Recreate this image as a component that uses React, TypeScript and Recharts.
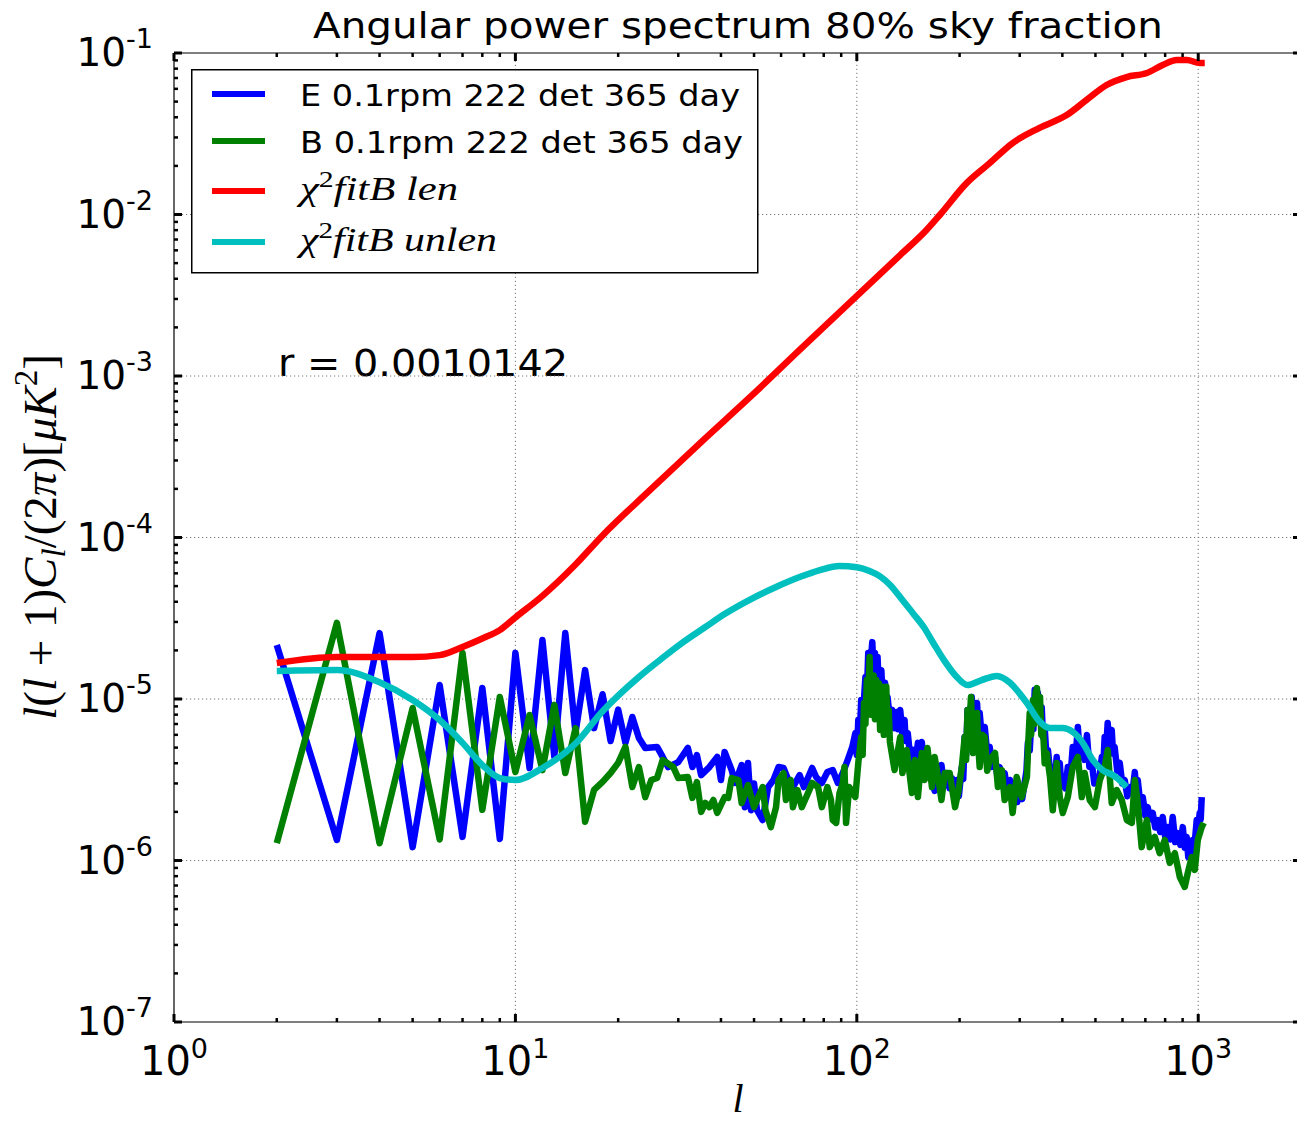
import React from 'react';
import { LineChart, Line, XAxis, YAxis, ReferenceLine, Legend, Customized } from 'recharts';

type Pt = [number, number];

// Measured E-mode spectrum, l(l+1)C_l/(2pi) in uK^2
const E_SPECTRUM: Pt[] = [
  [2, 2.16e-5], [3, 1.34e-6], [4, 2.56e-5], [5, 1.21e-6], [6, 1.22e-5], [7, 1.4e-6], [8, 1.17e-5], [9, 1.36e-6],
  [10, 1.93e-5], [11, 3.74e-6], [12, 2.32e-5], [13, 4.4e-6], [14, 2.56e-5], [15, 6.2e-6], [16, 1.51e-5], [17, 6.6e-6],
  [18, 1.07e-5], [19, 5.5e-6], [20, 8.6e-6], [21, 5.35e-6], [22, 7.74e-6], [23, 5.74e-6], [24, 4.98e-6], [26, 5.05e-6],
  [27, 4.38e-6], [28, 3.79e-6], [30, 4.07e-6], [32, 4.98e-6], [33, 3.79e-6], [34, 4.5e-6], [35, 3.38e-6], [37, 3.79e-6],
  [39, 4.38e-6], [40, 3.15e-6], [41, 4.7e-6], [43, 3.63e-6], [44, 3.02e-6], [46, 3.9e-6], [47, 2.14e-6], [48, 4.02e-6],
  [49, 2.05e-6], [50, 3.0e-6], [51, 2.05e-6], [53, 1.78e-6], [55, 2.85e-6], [57, 3.15e-6], [59, 3.79e-6], [61, 3.74e-6],
  [63, 3.15e-6], [65, 2.85e-6], [68, 3.38e-6], [70, 2.85e-6], [74, 3.74e-6], [76, 3.29e-6], [79, 3.02e-6], [82, 3.53e-6],
  [85, 3.63e-6], [88, 3.02e-6], [91, 3.48e-6], [94, 4.19e-6], [97, 5.05e-6], [99, 6.15e-6], [100, 4.5e-6], [101, 7.41e-6],
  [102, 6.0e-6], [103, 9.86e-6], [104, 7.5e-6], [106, 1.37e-5], [107, 1.05e-5], [108, 1.93e-5], [109, 1.4e-5], [111, 2.25e-5],
  [112, 1.5e-5], [113, 1.93e-5], [114, 1.3e-5], [115, 1.82e-5], [116, 1.2e-5], [118, 1.51e-5], [119, 1.0e-5], [121, 1.26e-5],
  [122, 8.5e-6], [123, 1.03e-5], [125, 7.5e-6], [127, 8.55e-6], [129, 6.6e-6], [131, 8.31e-6], [132, 6.5e-6], [134, 8.55e-6],
  [136, 6.0e-6], [138, 7.41e-6], [139, 5.5e-6], [141, 6.15e-6], [143, 4.6e-6], [146, 4.83e-6], [148, 3.9e-6], [151, 5.35e-6],
  [153, 4.2e-6], [155, 5.42e-6], [157, 4.0e-6], [160, 4.19e-6], [163, 3.3e-6], [166, 3.15e-6], [169, 2.7e-6], [172, 3.29e-6],
  [175, 2.8e-6], [177, 3.9e-6], [180, 2.9e-6], [184, 3.48e-6], [187, 2.8e-6], [190, 3.24e-6], [193, 2.6e-6], [196, 3.15e-6],
  [199, 2.5e-6], [203, 3.79e-6], [205, 3.2e-6], [207, 5.82e-6], [209, 4.5e-6], [211, 8.55e-6], [214, 6.5e-6], [217, 1.03e-5],
  [220, 7.0e-6], [225, 9.44e-6], [227, 6.5e-6], [229, 8.19e-6], [233, 5.5e-6], [237, 6.71e-6], [241, 4.6e-6], [245, 5.05e-6],
  [249, 3.8e-6], [254, 4.38e-6], [258, 3.3e-6], [262, 3.79e-6], [266, 3.0e-6], [271, 3.48e-6], [276, 2.7e-6], [281, 3.15e-6],
  [285, 2.5e-6], [290, 3.02e-6], [295, 2.3e-6], [300, 2.62e-6], [305, 2.4e-6], [311, 3.15e-6], [314, 3.6e-6], [317, 5.35e-6],
  [321, 4.8e-6], [326, 8.91e-6], [329, 6.5e-6], [332, 1.14e-5], [335, 8.0e-6], [339, 1.09e-5], [343, 7.5e-6], [348, 8.91e-6],
  [351, 5.8e-6], [355, 6.71e-6], [359, 4.5e-6], [363, 4.83e-6], [369, 3.4e-6], [375, 3.79e-6], [380, 3.2e-6], [385, 4.38e-6],
  [389, 3.3e-6], [393, 4.02e-6], [397, 3.0e-6], [401, 3.02e-6], [408, 2.8e-6], [415, 3.79e-6], [422, 3.2e-6], [429, 5.05e-6],
  [436, 4.0e-6], [444, 6.71e-6], [450, 4.5e-6], [456, 5.05e-6], [464, 4.2e-6], [472, 5.98e-6], [480, 3.8e-6], [488, 4.02e-6],
  [496, 3.0e-6], [504, 3.15e-6], [513, 3.2e-6], [522, 4.38e-6], [527, 3.8e-6], [532, 5.82e-6], [537, 4.8e-6], [543, 7.1e-6],
  [550, 5.0e-6], [558, 6.43e-6], [563, 4.6e-6], [569, 5.05e-6], [579, 3.6e-6], [589, 4.02e-6], [599, 3.0e-6], [609, 3.15e-6],
  [620, 2.5e-6], [630, 2.85e-6], [641, 2.6e-6], [652, 3.53e-6], [658, 2.8e-6], [665, 3.15e-6], [676, 2.3e-6], [688, 2.47e-6],
  [700, 1.9e-6], [711, 2.14e-6], [723, 1.8e-6], [736, 1.97e-6], [748, 1.6e-6], [761, 1.78e-6], [774, 1.5e-6], [787, 1.86e-6],
  [800, 1.4e-6], [814, 1.61e-6], [828, 1.35e-6], [842, 1.86e-6], [856, 1.3e-6], [871, 1.48e-6], [886, 1.25e-6], [901, 1.61e-6],
  [913, 1.2e-6], [925, 1.4e-6], [935, 1.05e-6], [944, 1.16e-6], [954, 1.0e-6], [964, 1.34e-6], [977, 1.3e-6], [990, 1.78e-6],
  [1000, 1.6e-6], [1010, 1.97e-6], [1017, 1.8e-6], [1024, 2.47e-6],
];

// Measured B-mode spectrum
const B_SPECTRUM: Pt[] = [
  [2, 1.28e-6], [3, 2.96e-5], [4, 1.28e-6], [5, 8.8e-6], [6, 1.35e-6], [7, 1.93e-5], [8, 2.06e-6], [9, 1.03e-5],
  [10, 3.53e-6], [11, 7.96e-6], [12, 3.63e-6], [13, 9.2e-6], [14, 3.48e-6], [15, 6.6e-6], [16, 1.74e-6], [17, 2.74e-6],
  [18, 3.07e-6], [19, 3.48e-6], [20, 4.02e-6], [21, 5.05e-6], [22, 2.85e-6], [23, 3.79e-6], [24, 2.47e-6], [25, 3.15e-6],
  [26, 3.24e-6], [27, 4.19e-6], [29, 3.79e-6], [30, 3.24e-6], [32, 3.29e-6], [33, 2.44e-6], [34, 3.06e-6], [35, 2.0e-6],
  [36, 2.27e-6], [37, 2.14e-6], [38, 2.37e-6], [39, 1.97e-6], [41, 2.47e-6], [42, 2.44e-6], [43, 3.24e-6], [45, 3.15e-6],
  [46, 2.27e-6], [48, 2.93e-6], [50, 2.14e-6], [51, 2.37e-6], [53, 2.85e-6], [54, 2.05e-6], [56, 1.61e-6], [58, 2.14e-6],
  [59, 3.15e-6], [61, 3.48e-6], [62, 2.37e-6], [64, 3.15e-6], [65, 2.14e-6], [67, 2.73e-6], [69, 2.14e-6], [72, 2.62e-6],
  [74, 3.02e-6], [77, 2.85e-6], [79, 2.14e-6], [82, 2.85e-6], [84, 2.37e-6], [85, 1.78e-6], [87, 1.71e-6], [89, 2.62e-6],
  [91, 3.02e-6], [92, 3.79e-6], [93, 1.71e-6], [95, 2.85e-6], [99, 2.47e-6], [101, 4.02e-6], [103, 5.82e-6], [104, 4.5e-6],
  [105, 9.44e-6], [106, 7.0e-6], [107, 1.31e-5], [108, 9.0e-6], [109, 1.82e-5], [110, 8.0e-6], [111, 1.03e-5], [112, 1.4e-5],
  [113, 7.5e-6], [114, 1.31e-5], [115, 9.5e-6], [116, 1.25e-5], [117, 6.43e-6], [118, 9.0e-6], [119, 1.19e-5], [120, 6.0e-6],
  [121, 9.5e-6], [122, 1.19e-5], [123, 6.5e-6], [124, 8.5e-6], [125, 5.42e-6], [129, 3.63e-6], [134, 5.82e-6], [136, 3.48e-6],
  [140, 4.83e-6], [145, 2.62e-6], [148, 4.19e-6], [151, 2.47e-6], [155, 4.63e-6], [158, 3.15e-6], [161, 4.98e-6], [166, 2.85e-6],
  [169, 4.38e-6], [173, 3.29e-6], [177, 2.37e-6], [181, 3.48e-6], [187, 3.48e-6], [194, 2.14e-6], [198, 2.62e-6], [203, 3.79e-6],
  [207, 5.82e-6], [209, 4.2e-6], [211, 8.55e-6], [213, 6.0e-6], [216, 1.03e-5], [219, 4.63e-6], [222, 6.5e-6], [225, 8.19e-6],
  [227, 5.0e-6], [229, 3.79e-6], [233, 6.0e-6], [237, 5.82e-6], [241, 3.6e-6], [245, 4.19e-6], [254, 4.63e-6], [259, 2.85e-6],
  [266, 3.63e-6], [271, 2.37e-6], [281, 2.85e-6], [286, 1.97e-6], [294, 3.29e-6], [304, 2.47e-6], [315, 3.29e-6], [318, 5.5e-6],
  [321, 8.19e-6], [324, 6.0e-6], [328, 9.86e-6], [331, 7.0e-6], [334, 1.1e-5], [337, 1.17e-5], [340, 8.0e-6], [344, 1.03e-5],
  [347, 6.0e-6], [351, 6.71e-6], [355, 4.0e-6], [360, 4.63e-6], [368, 3.29e-6], [375, 2.05e-6], [385, 4.02e-6], [393, 2.47e-6],
  [401, 1.97e-6], [415, 2.47e-6], [429, 3.79e-6], [444, 4.38e-6], [456, 2.47e-6], [465, 3.48e-6], [481, 2.37e-6], [498, 2.14e-6],
  [515, 3.15e-6], [532, 3.79e-6], [543, 4.83e-6], [558, 2.27e-6], [577, 2.73e-6], [597, 2.37e-6], [618, 1.78e-6], [639, 1.71e-6],
  [652, 3.15e-6], [665, 2.27e-6], [683, 1.21e-6], [707, 1.78e-6], [721, 1.21e-6], [746, 1.4e-6], [771, 1.11e-6], [798, 1.34e-6],
  [825, 9.66e-7], [854, 1.11e-6], [883, 7.91e-7], [913, 6.86e-7], [932, 8.37e-7], [957, 1.05e-6], [977, 8.74e-7], [997, 1.34e-6],
  [1024, 1.61e-6], [1038, 1.71e-6],
];

// Best-fit lensed B-mode model
const LENSED_MODEL: Pt[] = [
  [2, 1.67e-5], [3, 1.82e-5], [4, 1.82e-5], [5, 1.82e-5], [6, 1.87e-5], [7, 2.1e-5], [8, 2.37e-5], [9, 2.67e-5],
  [10, 3.2e-5], [12, 4.35e-5], [15, 6.8e-5], [18, 1.03e-4], [25, 2.0e-4], [35, 3.9e-4], [49, 7.5e-4], [68, 1.45e-3],
  [95, 2.83e-3], [134, 5.61e-3], [160, 8.02e-3], [175, 9.93e-3], [210, 1.57e-2], [245, 2.08e-2], [286, 2.77e-2], [343, 3.44e-2],
  [412, 4.13e-2], [471, 5.12e-2], [539, 6.34e-2], [617, 7.1e-2], [707, 7.52e-2], [787, 8.43e-2], [865, 9.05e-2], [926, 9.05e-2],
  [1010, 8.67e-2], [1045, 8.67e-2],
];

// Best-fit unlensed B-mode model
const UNLENSED_MODEL: Pt[] = [
  [2, 1.49e-5], [3, 1.51e-5], [4, 1.27e-5], [5, 9.86e-6], [6, 7.41e-6], [7, 5.35e-6], [8, 3.9e-6], [9, 3.24e-6],
  [10, 3.15e-6], [12, 3.74e-6], [15, 5.3e-6], [18, 8.4e-6], [20, 1.05e-5], [23, 1.37e-5], [27, 1.8e-5], [31, 2.25e-5],
  [36, 2.79e-5], [41, 3.36e-5], [49, 4.16e-5], [58, 4.94e-5], [68, 5.69e-5], [78, 6.29e-5], [89, 6.67e-5], [100, 6.55e-5],
  [109, 6.21e-5], [117, 5.75e-5], [125, 5.1e-5], [136, 4.1e-5], [146, 3.4e-5], [157, 2.79e-5], [168, 2.2e-5], [180, 1.74e-5],
  [195, 1.39e-5], [211, 1.22e-5], [232, 1.31e-5], [257, 1.39e-5], [281, 1.26e-5], [298, 1.1e-5], [315, 9.44e-6], [344, 7.21e-6],
  [367, 6.61e-6], [401, 6.61e-6], [429, 6.25e-6], [459, 5.35e-6], [491, 4.19e-6], [525, 3.63e-6], [562, 3.38e-6], [597, 3.06e-6],
  [617, 2.85e-6],
];

const X_MAJOR = [1, 10, 100, 1000];
const X_MAJOR_EXP = ['0', '1', '2', '3'];
const X_MINOR = [2, 3, 4, 5, 6, 7, 8, 9, 20, 30, 40, 50, 60, 70, 80, 90, 200, 300, 400, 500, 600, 700, 800, 900];
const Y_MAJOR = [1e-7, 1e-6, 1e-5, 1e-4, 1e-3, 1e-2, 1e-1];
const Y_MAJOR_EXP = ['-7', '-6', '-5', '-4', '-3', '-2', '-1'];
const Y_MINOR = [
  2e-7, 3e-7, 4e-7, 5e-7, 6e-7, 7e-7, 8e-7, 9e-7,
  2e-6, 3e-6, 4e-6, 5e-6, 6e-6, 7e-6, 8e-6, 9e-6,
  2e-5, 3e-5, 4e-5, 5e-5, 6e-5, 7e-5, 8e-5, 9e-5,
  2e-4, 3e-4, 4e-4, 5e-4, 6e-4, 7e-4, 8e-4, 9e-4,
  2e-3, 3e-3, 4e-3, 5e-3, 6e-3, 7e-3, 8e-3, 9e-3,
  2e-2, 3e-2, 4e-2, 5e-2, 6e-2, 7e-2, 8e-2, 9e-2,
];
const X_DOMAIN: [number, number] = [1, 2000];
const Y_DOMAIN: [number, number] = [1e-7, 1e-1];

const TITLE = 'Angular power spectrum 80% sky fraction';
const ANNOTATION = 'r = 0.0010142';

const SERIES = [
  { key: 'E', name: 'E 0.1rpm 222 det 365 day', color: '#0000ff', points: E_SPECTRUM, curve: 'linear' },
  { key: 'B', name: 'B 0.1rpm 222 det 365 day', color: '#008000', points: B_SPECTRUM, curve: 'linear' },
  { key: 'len', name: 'χ²fitB len', color: '#ff0000', points: LENSED_MODEL, curve: 'monotone' },
  { key: 'unlen', name: 'χ²fitB unlen', color: '#00bfbf', points: UNLENSED_MODEL, curve: 'monotone' },
];

const toRows = (pts: Pt[]) => pts.map(([l, v]) => ({ l, v }));

const SANS = 'DejaVu Sans, sans-serif';
const SERIF = 'Liberation Serif, DejaVu Serif, serif';
const X_TICKS = [...X_MAJOR, ...X_MINOR].sort((a, b) => a - b);
const Y_TICKS = [...Y_MAJOR, ...Y_MINOR].sort((a, b) => a - b);

const makeXTick = (side: 'bottom' | 'top') => (props: any) => {
  const { x, y, payload } = props;
  const i = X_MAJOR.indexOf(payload.value);
  const major = i >= 0;
  const dir = side === 'bottom' ? -1 : 1;
  return (
    <g>
      <line x1={x} x2={x} y1={y} y2={y + dir * (major ? 8 : 4)} stroke="#000" strokeWidth={major ? 3 : 2.5} />
      {side === 'bottom' && major && (
        <text x={x} y={y + 53} textAnchor="middle" fontFamily={SANS} fontSize={40} fill="#000">
          10<tspan dy={-17} fontSize={27}>{X_MAJOR_EXP[i]}</tspan>
        </text>
      )}
    </g>
  );
};

const makeYTick = (side: 'left' | 'right') => (props: any) => {
  const { x, y, payload } = props;
  const i = Y_MAJOR.indexOf(payload.value);
  const major = i >= 0;
  const dir = side === 'left' ? 1 : -1;
  return (
    <g>
      <line x1={x} x2={x + dir * (major ? 8 : 4)} y1={y} y2={y} stroke="#000" strokeWidth={major ? 3 : 2.5} />
      {side === 'left' && major && (
        <text x={x - 21} y={y + 13} textAnchor="end" fontFamily={SANS} fontSize={39} fill="#000">
          10<tspan dy={-18} fontSize={27}>{Y_MAJOR_EXP[i]}</tspan>
        </text>
      )}
    </g>
  );
};

const LEGEND_LINE_Y = [25, 72, 122, 173];
const LEGEND_TEXT_Y = [37, 84, 131, 182];
const LEGEND_TEXT_W = [440, 443, 158, 197];

const LegendLabel = ({ name, y, w }: { name: string; y: number; w: number }) => {
  if (name.startsWith('χ²')) {
    return (
      <text x={109} y={y} fontFamily={SERIF} fontStyle="italic" fontSize={33} fill="#000"
        textLength={w} lengthAdjust="spacingAndGlyphs">
        χ<tspan dy={-13} fontSize={23} fontStyle="normal">2</tspan>
        <tspan dy={13}>{name.slice(2)}</tspan>
      </text>
    );
  }
  return (
    <text x={109} y={y} fontFamily={SANS} fontSize={30} fill="#000" textLength={w} lengthAdjust="spacingAndGlyphs">
      {name}
    </text>
  );
};

const LegendBox = (props: any) => {
  const payload: any[] = props.payload || [];
  return (
    <svg width={568} height={205} style={{ display: 'block' }}>
      <rect x={0.75} y={0.75} width={566} height={203} fill="#fff" stroke="#000" strokeWidth={1.5} />
      {SERIES.map((s, i) => {
        const item = payload.find((p) => p.value === s.name);
        const color = item ? item.color : s.color;
        return (
          <g key={s.key}>
            <line x1={21} x2={74} y1={LEGEND_LINE_Y[i]} y2={LEGEND_LINE_Y[i]} stroke={color} strokeWidth={6} />
            <LegendLabel name={s.name} y={LEGEND_TEXT_Y[i]} w={LEGEND_TEXT_W[i]} />
          </g>
        );
      })}
    </svg>
  );
};

const ChartText = () => (
  <g>
    <text x={738} y={38} textAnchor="middle" fontFamily={SANS} fontSize={36} fill="#000"
      textLength={850} lengthAdjust="spacingAndGlyphs">
      {TITLE}
    </text>
    <text x={278} y={376} fontFamily={SANS} fontSize={37} fill="#000" textLength={290} lengthAdjust="spacingAndGlyphs">
      {ANNOTATION}
    </text>
    <text transform="translate(56, 537) rotate(-90)" x={0} y={0} textAnchor="middle" fontFamily={SERIF} fontSize={47} fill="#000">
      <tspan fontStyle="italic">l</tspan>(<tspan fontStyle="italic">l</tspan> + 1)<tspan fontStyle="italic">C</tspan>
      <tspan fontStyle="italic" fontSize={33} dy={9}>l</tspan>
      <tspan dy={-9}>/(2</tspan><tspan fontStyle="italic">π</tspan>)[<tspan fontStyle="italic">μK</tspan>
      <tspan fontSize={33} dy={-19}>2</tspan><tspan dy={19}>]</tspan>
    </text>
    <text x={738} y={1112} textAnchor="middle" fontFamily={SERIF} fontStyle="italic" fontSize={40} fill="#000">l</text>
  </g>
);

const GRID = { stroke: '#777', strokeWidth: 1, strokeDasharray: '1.2 2.8' };

export default function App() {
  return (
    <div style={{ position: 'absolute', left: 0, top: 0, width: 1297, height: 1122, overflow: 'hidden', background: '#fff' }}>
      <LineChart width={1302} height={1122} margin={{ top: 52, right: 0, bottom: 0, left: 0 }}>
        <XAxis xAxisId="b" dataKey="l" type="number" scale="log" domain={X_DOMAIN} allowDataOverflow
          ticks={X_TICKS} interval={0} tickSize={0} tickMargin={0} tickLine={false} height={100}
          axisLine={{ stroke: '#000', strokeWidth: 1.2 }} tick={makeXTick('bottom')} />
        <XAxis xAxisId="t" orientation="top" dataKey="l" type="number" scale="log" domain={X_DOMAIN} allowDataOverflow
          ticks={X_TICKS} interval={0} tickSize={0} tickMargin={0} tickLine={false} height={1}
          axisLine={{ stroke: '#000', strokeWidth: 1.2 }} tick={makeXTick('top')} />
        <YAxis yAxisId="l" type="number" scale="log" domain={Y_DOMAIN} allowDataOverflow
          ticks={Y_TICKS} interval={0} tickSize={0} tickMargin={0} tickLine={false} width={174}
          axisLine={{ stroke: '#000', strokeWidth: 1.2 }} tick={makeYTick('left')} />
        <YAxis yAxisId="r" orientation="right" type="number" scale="log" domain={Y_DOMAIN} allowDataOverflow
          ticks={Y_TICKS} interval={0} tickSize={0} tickMargin={0} tickLine={false} width={1}
          axisLine={{ stroke: '#000', strokeWidth: 1.2 }} tick={makeYTick('right')} />
        {X_MAJOR.slice(1).map((v) => (
          <ReferenceLine key={`gx${v}`} xAxisId="b" yAxisId="l" x={v} {...GRID} />
        ))}
        {Y_MAJOR.slice(1, -1).map((v) => (
          <ReferenceLine key={`gy${v}`} xAxisId="b" yAxisId="l" y={v} {...GRID} />
        ))}
        {SERIES.map((s) => (
          <Line key={s.key} xAxisId="b" yAxisId="l" data={toRows(s.points)} dataKey="v" name={s.name}
            stroke={s.color} strokeWidth={6.5} dot={false} activeDot={false} type={s.curve as any}
            strokeLinejoin="round" isAnimationActive={false} />
        ))}
        <Legend layout="vertical" align="center" verticalAlign="middle" content={LegendBox}
          wrapperStyle={{ position: 'absolute', left: 191, top: 69, width: 568, height: 205, margin: 0, padding: 0 }} />
        <Customized component={ChartText} />
      </LineChart>
    </div>
  );
}
